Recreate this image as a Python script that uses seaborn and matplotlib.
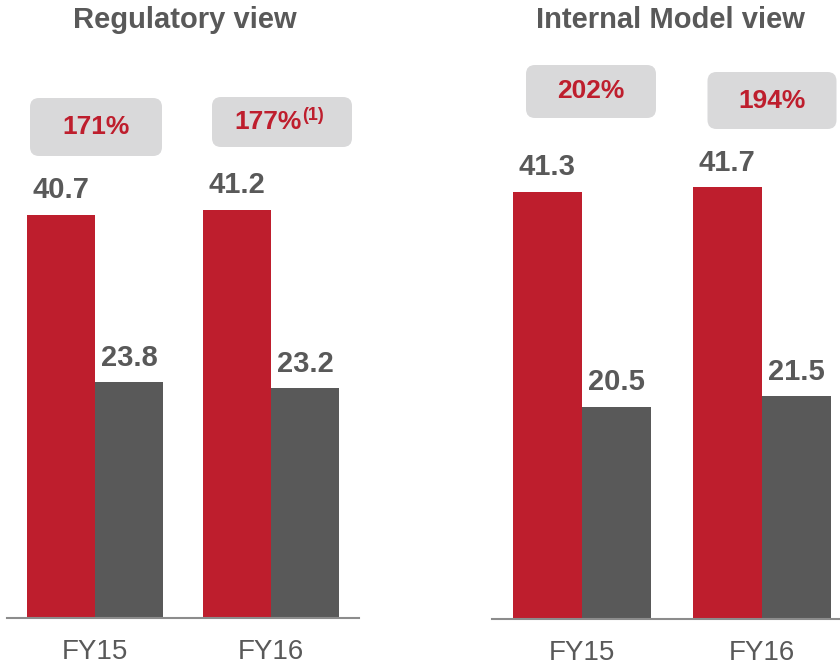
import pandas as pd
import numpy as np
import matplotlib.pyplot as plt
import matplotlib.transforms as mtransforms
from matplotlib.patches import FancyBboxPatch
import seaborn as sns

# Data
years = ['FY15', 'FY16']
series = ['Eligible own funds', 'SCR']
reg_own = [40.7, 41.2]
reg_scr = [23.8, 23.2]
im_own = [41.3, 41.7]
im_scr = [20.5, 21.5]
reg_ratio = ['171%', '177%']
reg_note = ['', '(1)']
im_ratio = ['202%', '194%']
im_note = ['', '']

RED = '#BE1E2D'
GRAY = '#595959'
BOX = '#D9D9DA'
LINE = '#8C8C8C'

sns.set_style('white')
plt.rcParams['font.family'] = ['Liberation Sans', 'DejaVu Sans']

W, H = 840, 665
fig = plt.figure(figsize=(W / 100, H / 100), dpi=100)


def panel_df(own, scr):
    return pd.DataFrame({
        'year': years * 2,
        'series': [series[0]] * len(years) + [series[1]] * len(years),
        'value': own + scr,
    })


# panel layout in pixels: left, right, baseline (from top), px per unit, px per group
# boxes: (top, bottom, width, x shift from group centre)
panels = [
    dict(title='Regulatory view', own=reg_own, scr=reg_scr, ratio=reg_ratio, note=reg_note,
         left=7, right=359, base=618, ppu=9.9, grp=176, title_x=185,
         boxes=[(98, 156, 132, 1), (97, 147, 140, 11)]),
    dict(title='Internal Model view', own=im_own, scr=im_scr, ratio=im_ratio, note=im_note,
         left=492, right=840, base=619, ppu=10.35, grp=180, title_x=670,
         boxes=[(65, 118, 130, 9), (72, 129, 129, 10)]),
]

for p in panels:
    wpx = p['right'] - p['left']
    ax = fig.add_axes([p['left'] / W, (H - p['base']) / H, wpx / W, p['base'] / H])
    df = panel_df(p['own'], p['scr'])
    sns.barplot(data=df, x='year', y='value', hue='series', palette=[RED, GRAY],
                width=0.77, linewidth=0, saturation=1, errorbar=None, legend=False, ax=ax)
    ax.set_xlim(-0.5, -0.5 + wpx / p['grp'])
    ax.set_ylim(0, p['base'] / p['ppu'])
    ax.set_xlabel('')
    ax.set_ylabel('')
    ax.set_yticks([])
    ax.tick_params(axis='x', length=0, pad=15, labelsize=20, labelcolor=GRAY)
    sns.despine(ax=ax, left=True)
    ax.spines['bottom'].set_color(LINE)
    ax.spines['bottom'].set_linewidth(1.5)

    # value labels
    for cont in ax.containers:
        for bar in cont:
            h = bar.get_height()
            ax.annotate(f'{h:.1f}', (bar.get_x() + bar.get_width() / 2, h),
                        xytext=(0, 12), textcoords='offset points',
                        ha='center', va='baseline', fontsize=21,
                        fontweight='bold', color=GRAY)

    # ratio boxes
    for i, (top, bot, bw, dx) in enumerate(p['boxes']):
        cx = ax.transData.transform((i, 0))[0] + dx
        y0 = H - bot
        box = FancyBboxPatch((cx - bw / 2, y0), bw, bot - top,
                             boxstyle='round,pad=0,rounding_size=9',
                             facecolor=BOX, edgecolor='none',
                             transform=mtransforms.IdentityTransform())
        fig.add_artist(box)
        cy = (H - (top + bot) / 2) / H
        if p['note'][i]:
            xa = (cx + 20) / W
            fig.text(xa, cy, p['ratio'][i], ha='right', va='center',
                     fontsize=19, fontweight='bold', color=RED)
            fig.text(xa, cy + 6 / H, p['note'][i], ha='left', va='center',
                     fontsize=13, fontweight='bold', color=RED)
        else:
            fig.text(cx / W, cy, p['ratio'][i], ha='center', va='center',
                     fontsize=19, fontweight='bold', color=RED)

    fig.text(p['title_x'] / W, 1 - 28 / H, p['title'], ha='center', va='baseline',
             fontsize=21, fontweight='bold', color=GRAY)

fig.savefig('out.png', dpi=100)
